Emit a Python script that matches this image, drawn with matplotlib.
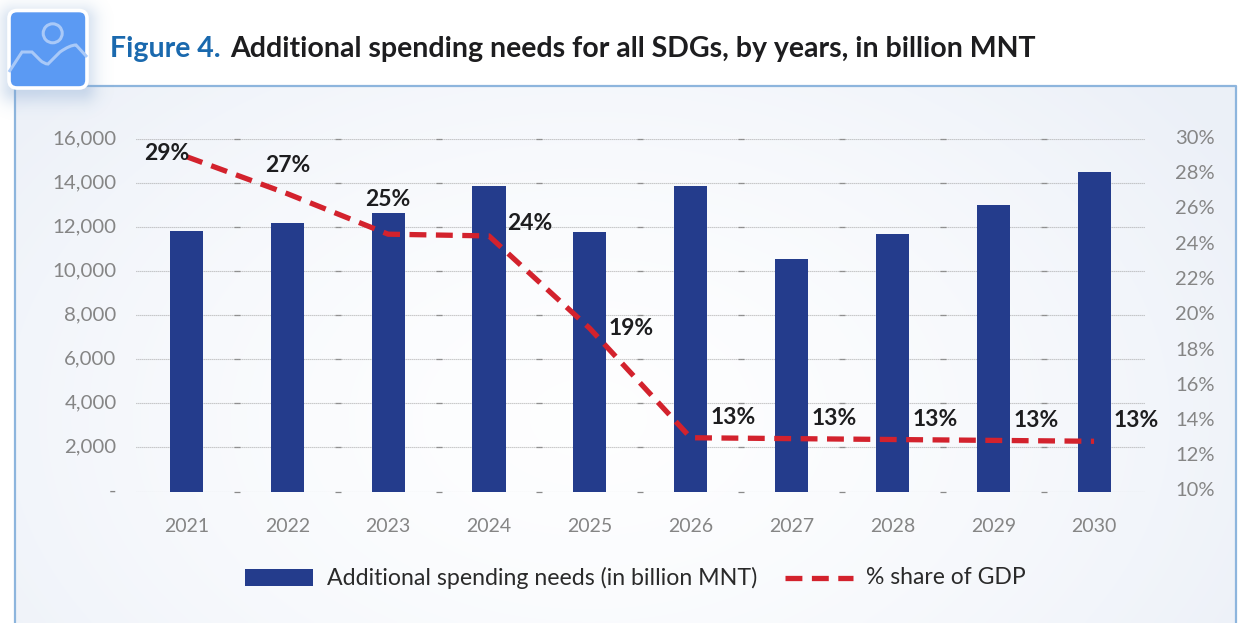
import numpy as np
import matplotlib
matplotlib.use("Agg")
import matplotlib.pyplot as plt
from matplotlib.patches import FancyBboxPatch, Circle, Rectangle, PathPatch
from matplotlib.path import Path
from matplotlib.lines import Line2D
from matplotlib.transforms import ScaledTranslation

years = ["2021", "2022", "2023", "2024", "2025", "2026", "2027", "2028", "2029", "2030"]
spending = [11825, 12190, 12640, 13870, 11780, 13870, 10550, 11690, 13000, 14500]
gdp_share = [29.0, 26.9, 24.6, 24.5, 19.25, 13.05, 13.0, 12.95, 12.9, 12.85]
share_labels = ["29%", "27%", "25%", "24%", "19%", "13%", "13%", "13%", "13%", "13%"]
label_offsets = [(-20, 3), (0, 28), (0, 35), (41, 12), (41, 0), (43, 20), (43, 20), (43, 20), (43, 20), (42, 21)]
left_ticks = list(range(0, 16001, 2000))
right_ticks = list(range(10, 31, 2))

W, H = 1240, 623
BLUE = "#243c8c"
RED = "#d3222d"
GREY = "#858585"
DASHES = (0, (3.2, 1.8))
plt.rcParams["font.family"] = "Lato"

fig = plt.figure(figsize=(W / 100, H / 100), dpi=100, facecolor="white")

# Page layer in pixel coordinates: panel, gradient, icon and title
bg = fig.add_axes([0, 0, 1, 1], zorder=0)
bg.axis("off")

yy, xx = np.mgrid[0:1:200j, 0:1:400j]
radial = np.clip(np.hypot((xx - 0.47) / 0.62, (yy - 0.62) / 0.95), 0, 1) ** 1.6
shade = np.dstack([
    0.995 - 0.07 * radial,
    0.997 - 0.055 * radial,
    1.0 - 0.028 * radial,
])
bg.imshow(shade, extent=(14, 1236, H, 85), aspect="auto", zorder=1, interpolation="bilinear")
bg.plot([14.5, 14.5, 1235.5, 1235.5], [H, 85.5, 85.5, H], color="#8db5dd", lw=1.6, zorder=2)

# Soft shadow under the icon tile
sx, sy = np.meshgrid(np.arange(0, 140), np.arange(0, 140))
dist = np.hypot(np.maximum(np.abs(sx - 48) - 34, 0), np.maximum(np.abs(sy - 54) - 34, 0))
shadow = np.zeros((140, 140, 4))
shadow[..., :3] = matplotlib.colors.to_rgb("#7fa3cf")
shadow[..., 3] = 0.33 * np.exp(-(dist / 15) ** 2)
bg.imshow(shadow, extent=(0, 140, 140, 0), aspect="auto", zorder=3)
bg.set_xlim(0, W)
bg.set_ylim(H, 0)

tile = FancyBboxPatch((9, 10.5), 78, 77.5, boxstyle="round,pad=0,rounding_size=8",
                      fc="#5b9af3", ec="white", lw=2.6, zorder=4)
bg.add_patch(tile)
ICON = "#a9c9f8"
bg.add_patch(Circle((52.7, 33.3), 9.5, fc="none", ec=ICON, lw=2.2, zorder=5))
ridge_path = Path(
    [(9, 72), (22, 52), (27, 52), (32, 52), (40, 60), (44, 64), (48, 64), (60, 52), (70, 45), (76, 45), (87, 57)],
    [Path.MOVETO, Path.LINETO, Path.CURVE3, Path.CURVE3, Path.LINETO, Path.CURVE3, Path.CURVE3,
     Path.LINETO, Path.CURVE3, Path.CURVE3, Path.LINETO],
)
bg.add_patch(PathPatch(ridge_path, fc="none", ec=ICON, lw=2.2, zorder=5))

bg.text(110, 49.5, "Figure 4.", color="#1a69ae", fontsize=20.5, fontweight="bold",
        va="center", ha="left", zorder=5)
bg.text(230, 49.5, "Additional spending needs for all SDGs, by years, in billion MNT",
        color="#1d1d1f", fontsize=20.5, fontweight="bold", va="center", ha="left", zorder=5)

# Chart axes
AX_L, AX_R, AX_T, AX_B = 136, 1144.5, 139, 491.5
ax = fig.add_axes([AX_L / W, 1 - AX_B / H, (AX_R - AX_L) / W, (AX_B - AX_T) / H], zorder=2)
ax.patch.set_visible(False)
x = np.arange(len(years))
ax.bar(x, spending, width=0.328, color=BLUE, zorder=3)
ax.set_xlim(-0.5, 9.5)
ax.set_ylim(0, 16000)
ax.set_yticks(left_ticks)
ax.set_yticklabels(["-"] + [f"{v:,}" for v in left_ticks[1:]])
ax.set_xticks(x)
ax.set_xticklabels(years)
ax.grid(axis="y", color="#9a9a9a", lw=0.8, ls=(0, (0.7, 1.1)), zorder=1)
for spine in ax.spines.values():
    spine.set_visible(False)
ax.tick_params(axis="y", length=0, pad=14, labelsize=14.7, labelcolor=GREY)
ax.tick_params(axis="x", length=0, pad=19, labelsize=14, labelcolor=GREY)

# Tiny marks where the category boundaries cross each gridline
for boundary in x[:-1] + 0.5:
    ax.plot([boundary] * len(left_ticks), left_ticks, ls="none", marker="_", ms=4, mew=0.9,
            color="#8a8a8a", zorder=1.5, clip_on=False)

ax2 = ax.twinx()
ax2.patch.set_visible(False)
ax2.set_ylim(10, 30)
ax2.set_yticks(right_ticks)
ax2.set_yticklabels([f"{v}%" for v in right_ticks])
for spine in ax2.spines.values():
    spine.set_visible(False)
ax2.tick_params(axis="y", length=0, pad=22, labelsize=14.5, labelcolor=GREY)
ax2.plot(x, gdp_share, color=RED, lw=3.8, ls=DASHES, zorder=4)
for xi, yi, lab, off in zip(x, gdp_share, share_labels, label_offsets):
    ax2.annotate(lab, (xi, yi), xytext=off, textcoords="offset pixels", ha="center", va="center",
                 fontsize=16.5, fontweight="bold", color="#1d1d1f", zorder=5)

# Axis text sits slightly above its gridline
nudge = ScaledTranslation(0, 2 / 100, fig.dpi_scale_trans)
for label in ax.get_yticklabels() + ax2.get_yticklabels():
    label.set_transform(label.get_transform() + nudge)

# Legend laid out by hand along the bottom of the panel
bg.add_patch(Rectangle((245, 569), 68, 17, fc=BLUE, ec="none", zorder=5))
bg.text(327, 578, "Additional spending needs (in billion MNT)", fontsize=16.7, color="#2a2a2a",
        va="center", ha="left", zorder=5)
bg.add_line(Line2D([785, 853], [577.5, 577.5], color=RED, lw=3.8, ls=DASHES, zorder=5))
bg.text(866, 578, "% share of GDP", fontsize=16.5, color="#2a2a2a", va="center", ha="left", zorder=5)

fig.savefig("out.png", dpi=100, facecolor="white")
